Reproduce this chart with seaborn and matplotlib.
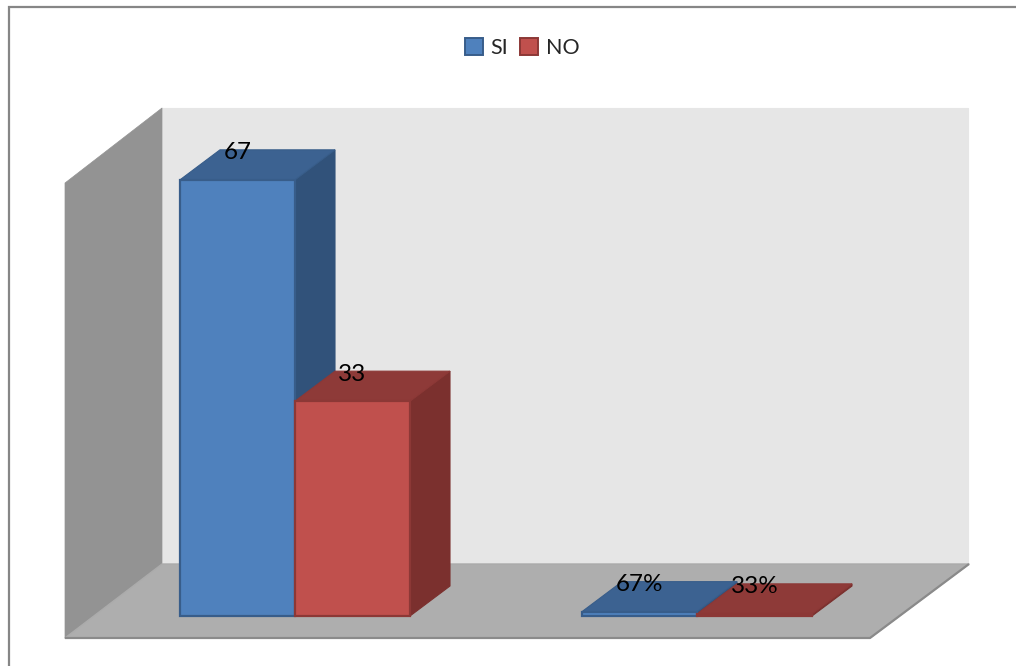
import matplotlib
matplotlib.use("Agg")
import matplotlib.pyplot as plt
import pandas as pd
import seaborn as sns
from matplotlib.patches import Polygon

# Chart values
categories = ["Cantidad", "Porcentaje"]
series_names = ["SI", "NO"]
si_values = [67, 0.67]
no_values = [33, 0.33]
si_labels = ["67", "67%"]
no_labels = ["33", "33%"]

W, H = 1016, 666
BASE_PX = 616  # y pixel of value 0
PX_PER_UNIT = 6.51
CAT0_PX, CAT_STEP_PX = 295, 402
DEPTH_X, DEPTH_Y = 40, 30

df = pd.DataFrame({
    "category": categories * 2,
    "series": [series_names[0]] * 2 + [series_names[1]] * 2,
    "value": si_values + no_values,
})

sns.set_theme(style="white")
plt.rcParams["font.family"] = ["Lato", "DejaVu Sans"]

fig = plt.figure(figsize=(W / 100, H / 100), dpi=100)
ax = fig.add_axes([0, 0, 1, 1])

sns.barplot(data=df, x="category", y="value", hue="series", hue_order=series_names,
            palette=["#4F81BD", "#C0504D"], width=230 / CAT_STEP_PX, gap=0,
            saturation=1, errorbar=None, ax=ax, zorder=3)

ax.set_xlim(-CAT0_PX / CAT_STEP_PX, (W - CAT0_PX) / CAT_STEP_PX)
ax.set_ylim((BASE_PX - H) / PX_PER_UNIT, BASE_PX / PX_PER_UNIT)
ax.axis("off")


# Convert reference pixel positions to data coordinates
def to_data(px, py):
    return (px - CAT0_PX) / CAT_STEP_PX, (BASE_PX - py) / PX_PER_UNIT


def add_face(points, color, edge=None, z=1, lw=1.0):
    ax.add_patch(Polygon([to_data(*p) for p in points], closed=True, facecolor=color,
                         edgecolor=edge if edge else color, linewidth=lw, zorder=z,
                         joinstyle="round"))


# Walls and floor of the 3D box
add_face([(162, 108), (968, 108), (968, 564), (162, 564)], "#E6E6E6", z=1, lw=0.8)
add_face([(65, 183), (162, 108), (162, 564), (65, 638)], "#939393", z=1.1, lw=0.5)
add_face([(65, 638), (870, 638), (969, 564), (162, 564)], "#AEAEAE", "#ABABAB", z=1.2)
ax.plot(*zip(to_data(65, 638), to_data(870, 638), to_data(969, 564)),
        color="#8A8A8A", lw=1.6, zorder=1.3, solid_capstyle="butt")

# Depth faces for every bar, taken from the bars seaborn drew
depth_dx = DEPTH_X / CAT_STEP_PX
depth_dy = DEPTH_Y / PX_PER_UNIT
face_colors = [("#3C6291", "#31527A", "#385D8A"), ("#8E3A38", "#7B302E", "#8C3836")]
labels = [si_labels, no_labels]

for s, container in enumerate(ax.containers):
    top_c, side_c, edge_c = face_colors[s]
    for i, bar in enumerate(container):
        x0, x1, h = bar.get_x(), bar.get_x() + bar.get_width(), bar.get_height()
        bar.set_edgecolor(edge_c)
        bar.set_linewidth(1.6)
        ax.add_patch(Polygon([(x1, 0), (x1 + depth_dx, depth_dy), (x1 + depth_dx, h + depth_dy), (x1, h)],
                             facecolor=side_c, edgecolor=side_c, lw=0.8, zorder=2 + s * 0.1))
        ax.add_patch(Polygon([(x0, h), (x1, h), (x1 + depth_dx, h + depth_dy), (x0 + depth_dx, h + depth_dy)],
                             facecolor=top_c, edgecolor=edge_c, lw=0.8, zorder=2.05 + s * 0.1))
        ax.annotate(labels[s][i], xy=((x0 + x1) / 2, h), xytext=(0, 27 * 0.72), textcoords="offset points",
                    ha="center", va="center", fontsize=17.5, color="black", zorder=5)

# Legend on top, in the middle
handles, legend_labels = ax.get_legend_handles_labels()
leg = ax.legend(handles, legend_labels, loc="center", bbox_to_anchor=(522 / W, 1 - 48 / H),
                bbox_transform=fig.transFigure, ncol=2, frameon=False, fontsize=15.5,
                handlelength=0.85, handleheight=0.85, handletextpad=0.35, columnspacing=0.55)
for patch, colors in zip(leg.get_patches(), face_colors):
    patch.set_edgecolor(colors[2])
    patch.set_linewidth(1.4)

# Outer chart border (top and left sides only are in view)
fig.add_artist(plt.Line2D([9 / W, 9 / W, 1], [0, 1 - 7 / H, 1 - 7 / H], color="#868686", lw=1.6,
                          transform=fig.transFigure, solid_joinstyle="miter"))

fig.savefig("out.png", dpi=100, facecolor="white")
